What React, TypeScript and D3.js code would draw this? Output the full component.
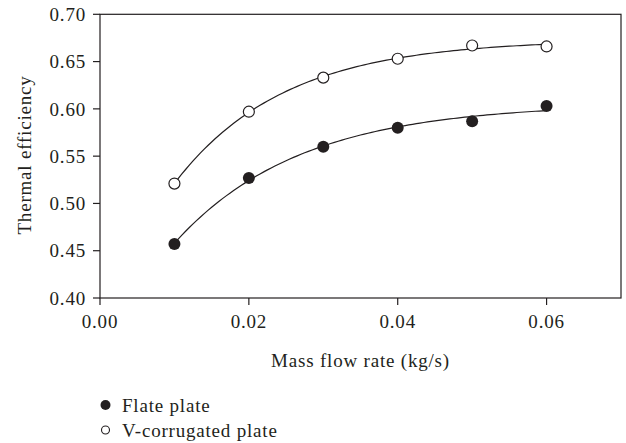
import React from "react";
import * as d3 from "d3";

const massFlow = [0.01, 0.02, 0.03, 0.04, 0.05, 0.06];
const flatePlate = [0.457, 0.527, 0.56, 0.58, 0.587, 0.603];
const vCorrugated = [0.521, 0.597, 0.633, 0.653, 0.667, 0.666];
const xTicks = [0, 0.02, 0.04, 0.06];
const yTicks = [0.4, 0.45, 0.5, 0.55, 0.6, 0.65, 0.7];
const seriesNames = ["Flate plate", "V-corrugated plate"];

const W = 626;
const H = 443;
const INK = "#231f20";
const FONT = "'Liberation Serif', 'DejaVu Serif', serif";
const FS = 19;
const LS = 0.8;

function expFit(xs: number[], ys: number[]) {
  let best = { a: 0, b: 0, c: 1, sse: Infinity };
  for (let c = 1; c <= 300; c += 0.25) {
    const z = xs.map((x) => Math.exp(-c * x));
    const mz = d3.mean(z)!;
    const my = d3.mean(ys)!;
    let sxy = 0, sxx = 0;
    z.forEach((zi, i) => { sxy += (zi - mz) * (ys[i] - my); sxx += (zi - mz) ** 2; });
    const b = sxy / sxx;
    const a = my - b * mz;
    let sse = 0;
    z.forEach((zi, i) => { sse += (a + b * zi - ys[i]) ** 2; });
    if (sse < best.sse) best = { a, b, c, sse };
  }
  return (x: number) => best.a + best.b * Math.exp(-best.c * x);
}

export default function App() {
  const x = d3.scaleLinear().domain([0, 0.07]).range([100, 621]);
  const y = d3.scaleLinear().domain([0.4, 0.7]).range([298, 14.3]);

  const line = d3.line<[number, number]>().x((d) => x(d[0])).y((d) => y(d[1])).curve(d3.curveLinear);
  const curve = (vals: number[]) => {
    const f = expFit(massFlow, vals);
    const pts: [number, number][] = d3.range(0, 101).map((i) => {
      const xv = 0.01 + (i / 100) * 0.05;
      return [xv, f(xv)];
    });
    return line(pts) || "";
  };

  const txt = { fontSize: FS, fill: INK, letterSpacing: LS } as const;

  return (
    <svg width={W} height={H} style={{ position: "absolute", left: 0, top: 0, background: "#fff" }} fontFamily={FONT}>
      <rect x={0} y={0} width={W} height={H} fill="#fff" />
      {/* frame */}
      <rect x={x(0)} y={y(0.7)} width={x(0.07) - x(0)} height={y(0.4) - y(0.7)} fill="none" stroke={INK} strokeWidth={1.2} />
      {/* y ticks */}
      {yTicks.map((t) => (
        <g key={"y" + t}>
          <line x1={x(0) - 7} x2={x(0)} y1={y(t)} y2={y(t)} stroke={INK} strokeWidth={1.2} />
          <text x={x(0) - 14} y={y(t)} dy="0.35em" textAnchor="end" {...txt}>
            {d3.format(".2f")(t)}
          </text>
        </g>
      ))}
      {/* x ticks */}
      {xTicks.map((t) => (
        <g key={"x" + t}>
          <line x1={x(t)} x2={x(t)} y1={y(0.4)} y2={y(0.4) + 7} stroke={INK} strokeWidth={1.2} />
          <text x={x(t)} y={321} dy="0.35em" textAnchor="middle" {...txt}>
            {d3.format(".2f")(t)}
          </text>
        </g>
      ))}
      {/* axis titles */}
      <text x={360.5} y={360} dy="0.35em" textAnchor="middle" {...txt}>
        Mass flow rate (kg/s)
      </text>
      <text transform={`translate(24,155) rotate(-90)`} dy="0.35em" textAnchor="middle" {...txt}>
        Thermal efficiency
      </text>
      {/* curves */}
      <path d={curve(vCorrugated)} fill="none" stroke={INK} strokeWidth={1.2} />
      <path d={curve(flatePlate)} fill="none" stroke={INK} strokeWidth={1.2} />
      {/* markers */}
      {massFlow.map((m, i) => (
        <circle key={"v" + i} cx={x(m)} cy={y(vCorrugated[i])} r={5.5} fill="#fff" stroke={INK} strokeWidth={1.2} />
      ))}
      {massFlow.map((m, i) => (
        <circle key={"f" + i} cx={x(m)} cy={y(flatePlate[i])} r={6} fill={INK} />
      ))}
      {/* legend */}
      <circle cx={105.5} cy={405} r={5} fill={INK} />
      <text x={122} y={405} dy="0.35em" {...txt}>{seriesNames[0]}</text>
      <circle cx={105.5} cy={430} r={4} fill="#fff" stroke={INK} strokeWidth={1.1} />
      <text x={122} y={430} dy="0.35em" {...txt}>{seriesNames[1]}</text>
    </svg>
  );
}
